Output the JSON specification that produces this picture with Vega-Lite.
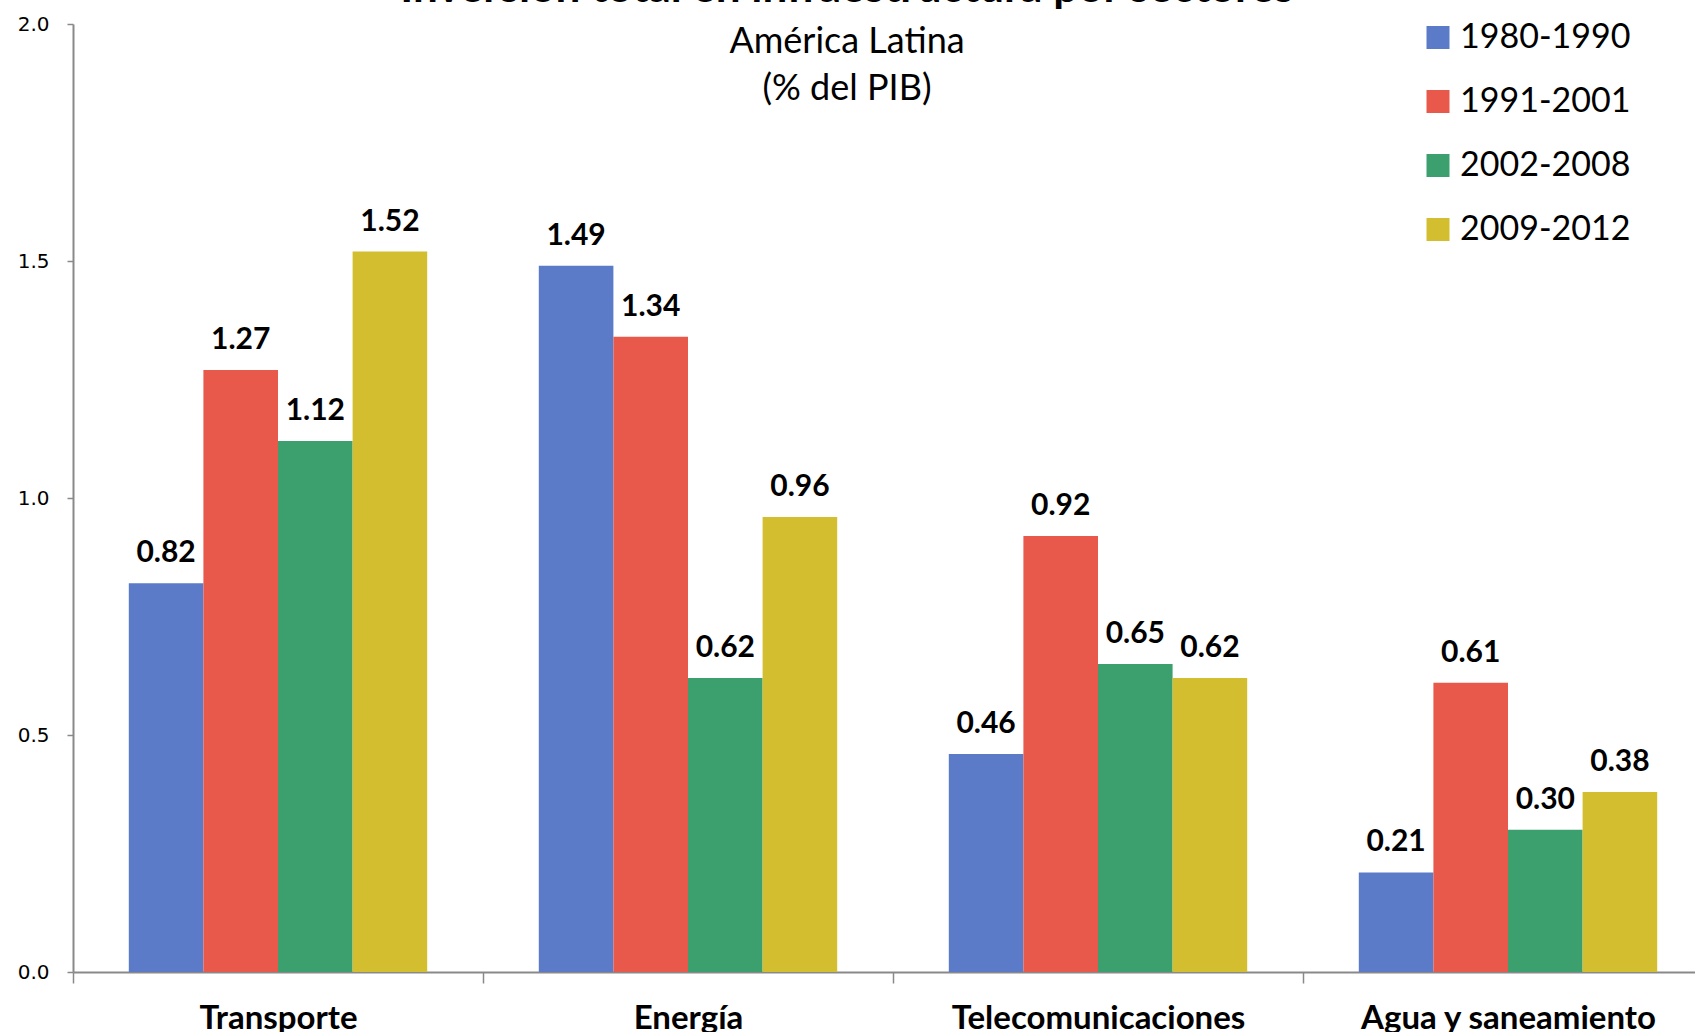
{
  "$schema": "https://vega.github.io/schema/vega-lite/v6.json",
  "autosize": "none",
  "width": 1548,
  "height": 948,
  "padding": {"left": 73, "top": 24, "right": 74, "bottom": 60},
  "background": "white",
  "title": {
    "text": "Inversión total en infraestructura por sectores",
    "subtitle": ["América Latina", "(% del PIB)"],
    "anchor": "middle",
    "frame": "group",
    "font": "Lato",
    "fontSize": 44,
    "fontWeight": "bold",
    "color": "black",
    "subtitleFont": "Lato",
    "subtitleFontSize": 36,
    "subtitleFontWeight": "normal",
    "subtitleColor": "black",
    "subtitlePadding": 14,
    "subtitleLineHeight": 47,
    "offset": -93
  },
  "data": {
    "values": [
      {"sector": "Transporte", "periodo": "1980-1990", "valor": 0.82},
      {"sector": "Transporte", "periodo": "1991-2001", "valor": 1.27},
      {"sector": "Transporte", "periodo": "2002-2008", "valor": 1.12},
      {"sector": "Transporte", "periodo": "2009-2012", "valor": 1.52},
      {"sector": "Energía", "periodo": "1980-1990", "valor": 1.49},
      {"sector": "Energía", "periodo": "1991-2001", "valor": 1.34},
      {"sector": "Energía", "periodo": "2002-2008", "valor": 0.62},
      {"sector": "Energía", "periodo": "2009-2012", "valor": 0.96},
      {"sector": "Telecomunicaciones", "periodo": "1980-1990", "valor": 0.46},
      {"sector": "Telecomunicaciones", "periodo": "1991-2001", "valor": 0.92},
      {"sector": "Telecomunicaciones", "periodo": "2002-2008", "valor": 0.65},
      {"sector": "Telecomunicaciones", "periodo": "2009-2012", "valor": 0.62},
      {"sector": "Agua y saneamiento", "periodo": "1980-1990", "valor": 0.21},
      {"sector": "Agua y saneamiento", "periodo": "1991-2001", "valor": 0.61},
      {"sector": "Agua y saneamiento", "periodo": "2002-2008", "valor": 0.30},
      {"sector": "Agua y saneamiento", "periodo": "2009-2012", "valor": 0.38}
    ]
  },
  "encoding": {
    "x": {
      "field": "sector",
      "type": "nominal",
      "sort": ["Transporte", "Energía", "Telecomunicaciones", "Agua y saneamiento"],
      "scale": {"range": [0, 1640], "paddingInner": 0, "paddingOuter": 0},
      "axis": {
        "title": null,
        "labelAngle": 0,
        "labelLimit": 0,
        "tickBand": "extent",
        "domainColor": "#898989",
        "domainWidth": 2,
        "tickColor": "#898989",
        "tickWidth": 1.5,
        "tickSize": 11,
        "labelFont": "Lato",
        "labelFontWeight": "bold",
        "labelFontSize": 33,
        "labelColor": "black",
        "labelBaseline": "alphabetic",
        "labelPadding": 45
      }
    },
    "xOffset": {
      "field": "periodo",
      "type": "nominal",
      "scale": {"paddingInner": 0, "paddingOuter": 0.748}
    },
    "y": {
      "field": "valor",
      "type": "quantitative",
      "scale": {"domain": [0, 2], "nice": false},
      "axis": {
        "title": null,
        "grid": false,
        "values": [0, 0.5, 1, 1.5, 2],
        "format": ".1f",
        "domainColor": "#898989",
        "domainWidth": 2,
        "tickColor": "#898989",
        "tickWidth": 1.5,
        "tickSize": 6,
        "labelFont": "DejaVu Sans",
        "labelFontSize": 20,
        "labelColor": "black",
        "labelPadding": 18
      }
    },
    "color": {
      "field": "periodo",
      "type": "nominal",
      "scale": {
        "domain": ["1980-1990", "1991-2001", "2002-2008", "2009-2012"],
        "range": ["#5B7AC8", "#E8594B", "#3CA06E", "#D2BE2E"]
      },
      "legend": {
        "title": null,
        "orient": "none",
        "legendX": 1348,
        "legendY": -3.5,
        "symbolType": "square",
        "symbolSize": 529,
        "symbolStrokeWidth": 0,
        "symbolOpacity": 1,
        "labelFont": "Lato",
        "labelFontSize": 34,
        "labelColor": "black",
        "labelLimit": 0,
        "labelOffset": 5,
        "rowPadding": 30,
        "padding": 0
      }
    }
  },
  "layer": [
    {"mark": {"type": "bar"}},
    {
      "mark": {"type": "text", "font": "Lato", "fontWeight": "bold", "fontSize": 30, "color": "black", "baseline": "alphabetic", "dy": -21},
      "encoding": {
        "text": {"field": "valor", "type": "quantitative", "format": ".2f"},
        "color": {"value": "black"}
      }
    }
  ],
  "config": {
    "view": {"stroke": null}
  }
}
